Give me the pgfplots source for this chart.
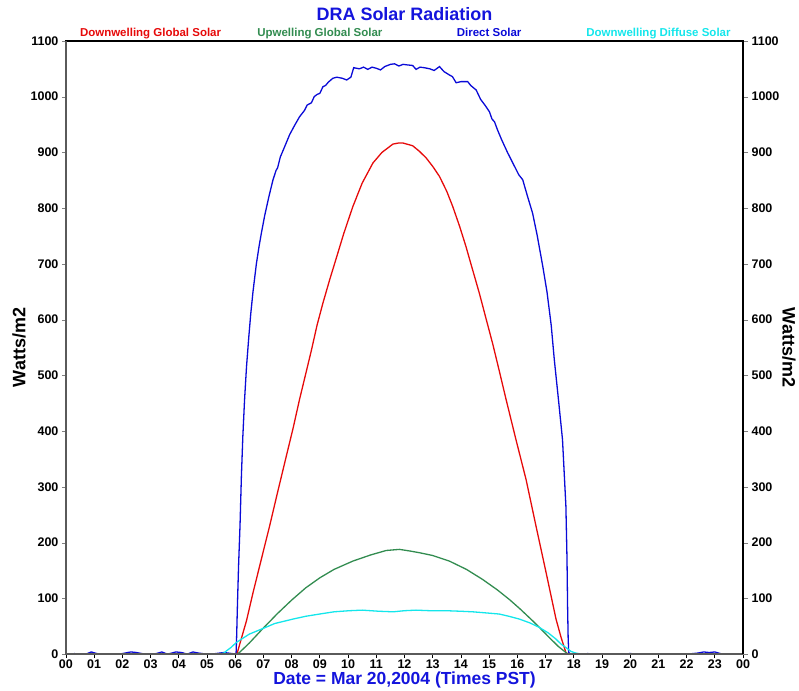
\documentclass[border=0pt]{standalone}
\usepackage{pgfplots}
\pgfplotsset{compat=1.18}
\usepackage{fontspec}
\setmainfont{Liberation Sans}
\definecolor{cdown}{RGB}{230,10,10}
\definecolor{cup}{RGB}{50,140,80}
\definecolor{cdir}{RGB}{10,10,215}
\definecolor{cdif}{RGB}{20,230,235}
\definecolor{ctitle}{RGB}{20,20,220}
\definecolor{cgray}{RGB}{90,90,90}
\begin{document}
\begin{tikzpicture}
\pgfplotsset{
  common/.style={
    scale only axis, width=678pt, height=614pt,
    xmin=0, xmax=24, ymin=0, ymax=1100,
    /pgf/number format/assume math mode=true,
    tick label style={font=\bfseries\fontsize{12.5}{12.5}\selectfont, black},
    ytick={0,100,...,1100},
    tick align=outside,
    major tick length=5pt,
    yticklabel style={/pgf/number format/1000 sep={}},
  }
}
\begin{axis}[common, name=ax,
  axis line style={black, line width=1.2pt},
  ytick pos=left, xtick pos=lower,
  xtick={0,1,...,24},
  xticklabels={00,01,02,03,04,05,06,07,08,09,10,11,12,13,14,15,16,17,18,19,20,21,22,23,00},
  xticklabel style={anchor=north, text height=9pt, text depth=0pt, inner sep=1.5pt},
  x tick style={black, line width=0.8pt},
  major tick length=4pt,
  ylabel={\bfseries\fontsize{18}{18}\selectfont Watts/m2},
  ylabel style={at={(axis description cs:-0.0693,0.5)}, anchor=center},
  xlabel={\bfseries\fontsize{17.5}{17.5}\selectfont\color{ctitle}Date = Mar 20,2004 (Times PST)},
  xlabel style={at={(axis description cs:0.5,-0.0425)}, anchor=center, inner sep=0pt},
  clip=false,
]
\addplot[cdir, line width=1.3pt] coordinates {
(0,0) (0.3,1) (0.7,0) (0.9,4) (1.1,1) (1.5,0) (2.0,1) (2.3,4) (2.5,3) (2.8,0)
(3.2,1) (3.4,4) (3.6,0) (3.9,4) (4.1,3) (4.3,0) (4.5,4) (4.7,2) (5.0,0) (5.3,1)
(5.6,3) (5.9,1) (6.03,0) (6.05,30) (6.08,90) (6.12,160) (6.17,230) (6.22,320)
(6.27,390) (6.33,455) (6.40,515) (6.48,568) (6.55,610) (6.63,650) (6.75,700)
(6.85,733) (6.93,756) (7.05,788) (7.2,822) (7.34,851) (7.45,868) (7.5,872)
(7.6,892) (7.75,910) (7.93,932) (8.1,948) (8.28,964) (8.45,975) (8.55,985)
(8.70,989) (8.8,1000) (8.9,1004) (9.0,1006) (9.11,1018) (9.2,1020) (9.3,1026)
(9.46,1033) (9.6,1035) (9.8,1033) (9.95,1030) (10.1,1035) (10.2,1052) (10.4,1050)
(10.55,1053) (10.7,1049) (10.85,1053) (11.0,1051) (11.15,1048) (11.3,1054)
(11.5,1058) (11.65,1059) (11.8,1055) (11.95,1058) (12.1,1057) (12.29,1056)
(12.41,1049) (12.55,1053) (12.7,1052) (12.9,1050) (13.05,1047) (13.24,1054)
(13.4,1045) (13.59,1039) (13.7,1036) (13.83,1025) (14.0,1027) (14.24,1027)
(14.35,1020) (14.54,1012) (14.7,995) (14.85,985) (15.01,973) (15.1,960)
(15.19,955) (15.3,940) (15.45,922) (15.66,899) (15.9,875) (16.05,860) (16.19,851)
(16.35,823) (16.54,791) (16.7,752) (16.90,696) (17.05,650) (17.2,590) (17.31,528)
(17.45,460) (17.60,385) (17.72,266) (17.76,170) (17.78,87) (17.80,30) (17.82,3)
(17.9,0) (18.5,1) (19,0) (20,1) (21,0) (22,0) (22.4,2) (22.6,4) (22.8,3) (23.0,4)
(23.2,1) (23.5,0) (24,0)
};
\addplot[cdown, line width=1.3pt] coordinates {
(0,0) (5.9,0) (6.06,0) (6.2,25) (6.4,60) (6.63,110) (6.9,165) (7.22,230) (7.5,290)
(7.81,355) (8.05,405) (8.28,457) (8.5,503) (8.7,545) (8.9,590) (9.11,630) (9.35,672)
(9.58,710) (9.85,755) (10.17,803) (10.5,845) (10.88,881) (11.2,900) (11.59,915)
(11.8,917) (11.94,917) (12.29,912) (12.53,902) (12.77,890) (13.0,875) (13.24,857)
(13.5,830) (13.71,803) (13.95,768) (14.18,731) (14.4,692) (14.65,648) (14.9,600)
(15.13,556) (15.36,508) (15.60,457) (15.95,385) (16.31,313) (16.66,230)
(17.02,146) (17.37,63) (17.55,30) (17.72,3) (17.8,0) (24,0)
};
\addplot[cup, line width=1.3pt] coordinates {
(0,0) (6.05,0) (6.15,3) (6.5,20) (7.0,47) (7.5,73) (8.0,97) (8.5,119) (9.0,137)
(9.5,152) (10.17,167) (10.8,178) (11.35,186) (11.82,188) (12.2,185) (12.53,182)
(13.0,177) (13.59,167) (14.2,152) (14.77,134) (15.3,115) (15.72,98) (16.1,81)
(16.54,60) (16.78,48) (17.13,30) (17.45,14) (17.72,3) (17.8,0) (24,0)
};
\addplot[cdif, line width=1.3pt] coordinates {
(0,0) (5.4,0) (5.6,2) (5.69,6) (5.85,12) (6.04,21) (6.16,25) (6.5,36) (6.98,46)
(7.4,55) (8.05,63) (8.5,68) (8.99,72) (9.5,76) (10.05,78) (10.5,79) (11.1,77)
(11.6,76) (12.0,78) (12.41,79) (12.9,78) (13.47,78) (14.0,77) (14.42,76) (14.9,74)
(15.36,72) (15.7,68) (16.07,63) (16.45,56) (16.78,48) (17.1,38) (17.37,27)
(17.55,18) (17.72,12) (17.9,5) (18.07,2) (18.3,0) (24,0)
};
\draw[cgray, line width=2pt] (rel axis cs:0,1) -- (rel axis cs:0,0) -- (rel axis cs:1,0);
\node[font=\bfseries\fontsize{18}{18}\selectfont, text=ctitle, anchor=base] at (axis description cs:0.5,1.0335) {DRA Solar Radiation};
\node[font=\bfseries\fontsize{11.5}{11.5}\selectfont, text=cdown, anchor=base] at (axis description cs:0.125,1.0065) {Downwelling Global Solar};
\node[font=\bfseries\fontsize{11.5}{11.5}\selectfont, text=cup, anchor=base] at (axis description cs:0.375,1.0065) {Upwelling Global Solar};
\node[font=\bfseries\fontsize{11.5}{11.5}\selectfont, text=cdir, anchor=base] at (axis description cs:0.625,1.0065) {Direct Solar};
\node[font=\bfseries\fontsize{11.5}{11.5}\selectfont, text=cdif, anchor=base] at (axis description cs:0.875,1.0065) {Downwelling Diffuse Solar};
\end{axis}
\begin{axis}[common,
  axis x line=none, axis y line*=right,
  axis line style={black, line width=1.2pt},
  ylabel={\bfseries\fontsize{18}{18}\selectfont Watts/m2},
  ylabel style={at={(axis description cs:1.0678,0.5)}, anchor=center, rotate=180},
]
\end{axis}
\path ([xshift=-66pt,yshift=-36pt]ax.south west) rectangle ([xshift=55pt,yshift=41pt]ax.north east);
\end{tikzpicture}
\end{document}
